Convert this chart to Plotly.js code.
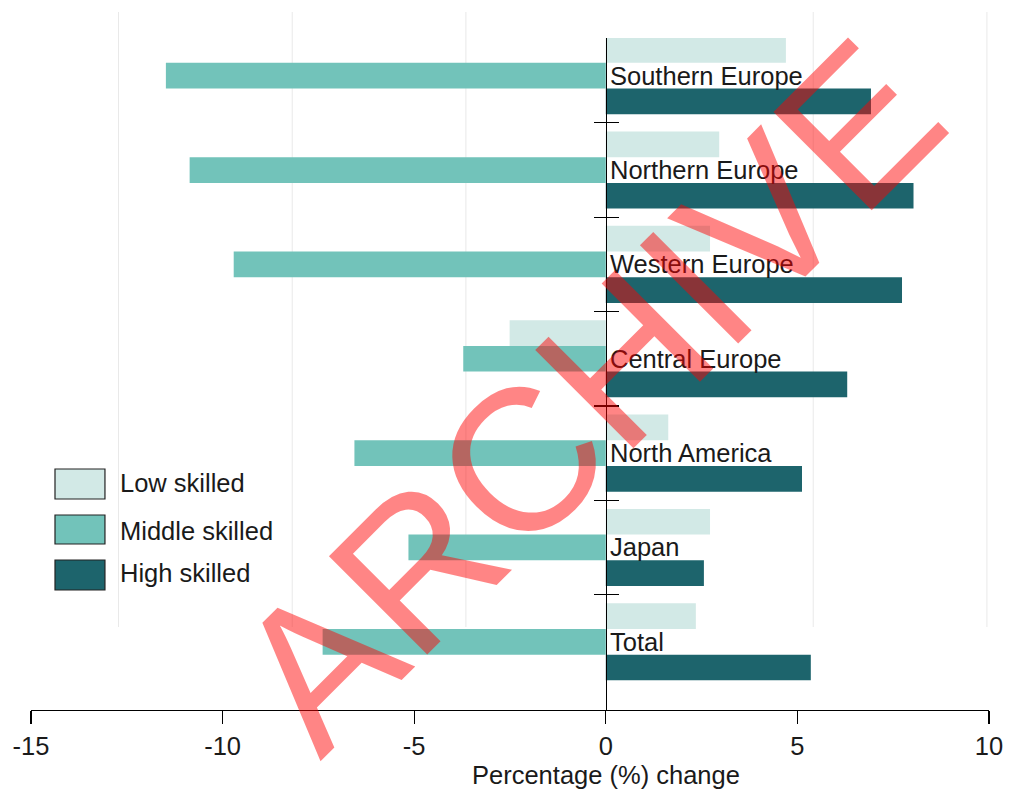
<!DOCTYPE html>
<html>
<head>
<meta charset="utf-8">
<script src="https://cdn.plot.ly/plotly-3.0.1.min.js"></script>
<style>html,body{margin:0;padding:0;background:#fff;}#chart{width:1009px;height:790px;}</style>
</head>
<body>
<div id="chart"></div>
<script>
// ---- data ----
const regions = ["Southern Europe","Northern Europe","Western Europe","Central Europe","North America","Japan","Total"];
const seriesNames = ["Low skilled","Middle skilled","High skilled"];
const lowSkilled    = [4.70, 2.96, 2.72, -2.51, 1.63, 2.72, 2.35];
const middleSkilled = [-11.48, -10.86, -9.71, -3.72, -6.56, -5.15, -7.39];
const highSkilled   = [6.92, 8.03, 7.73, 6.30, 5.12, 2.56, 5.35];
const xTickVals  = [-15, -10, -5, 0, 5, 10];
const xTickText  = ["-15", "-10", "-5", "0", "5", "10"];
const xTitle = "Percentage (%) change";
const gridVals   = [0, 1, 2, 4, 5];
const boundaryVals = [0.5, 1.5, 2.5, 3.5, 4.5, 5.5];

const colors = ["#d2e9e6", "#72c3ba", "#1d646c"];
const FONT = "Liberation Sans, Arial, Helvetica, sans-serif";
const TXT = "#1a1a1a";
const FS = 25.5;

const values = [lowSkilled, middleSkilled, highSkilled];
const barTraces = values.map((v, i) => ({
  type: "bar", orientation: "h",
  x: v, y: regions, name: seriesNames[i],
  marker: {color: colors[i], line: {width: 0}},
  hoverinfo: "x+y", showlegend: false
}));

const gridTrace = {type: "scatter", x: [null], y: [null], xaxis: "x2", yaxis: "y2", showlegend: false, hoverinfo: "skip"};
const tickTraceL = {type: "scatter", x: [null], y: [null], yaxis: "y3", showlegend: false, hoverinfo: "skip"};
const tickTraceR = {type: "scatter", x: [null], y: [null], yaxis: "y4", showlegend: false, hoverinfo: "skip"};

const yRange = [6.723, -0.4];
const mainDom = [0, 0.9628];
const gridDom = [0.1189, 1];

const annotations = regions.map(r => ({
  x: 0, y: r, xref: "x", yref: "y", text: r, showarrow: false,
  xanchor: "left", yanchor: "middle", xshift: 2, yshift: 0,
  font: {family: FONT, size: FS, color: TXT}
}));

// axis title centred on zero, as in the reference
annotations.push({x: 0, y: 0, xref: "x", yref: "paper", text: xTitle, showarrow: false,
  xanchor: "center", yanchor: "middle", yshift: -65,
  font: {family: FONT, size: FS, color: TXT}});

const shapes = [];
// background gridlines (below everything)
gridVals.forEach(g => {
  shapes.push({type: "line", xref: "x2", yref: "paper", x0: g, x1: g, y0: gridDom[0], y1: gridDom[1],
    layer: "below", line: {color: "#e9e9e9", width: 1}});
});

// custom legend
const legY = [[0.3453, 0.3023], [0.2794, 0.2378], [0.2149, 0.1719]];
const legTextY = [0.3252, 0.2569, 0.1967];
seriesNames.forEach((n, i) => {
  shapes.push({type: "rect", xref: "paper", yref: "paper", x0: 0.02505, x1: 0.0772,
    y0: legY[i][1], y1: legY[i][0], fillcolor: colors[i], line: {color: "#222", width: 1.2}});
  annotations.push({x: 0.0905, y: legTextY[i], xref: "paper", yref: "paper", text: n,
    showarrow: false, xanchor: "left", yanchor: "middle",
    font: {family: FONT, size: FS, color: TXT}});
});

// watermark
annotations.push({x: 0.581, y: 0.452, xref: "paper", yref: "paper", text: "ARCHIVE",
  showarrow: false, xanchor: "center", yanchor: "middle", textangle: -45,
  font: {family: FONT, size: 202, color: "rgba(255,0,0,0.48)"}});

const layout = {
  width: 1009, height: 790,
  margin: {l: 31, r: 20, t: 12, b: 80},
  paper_bgcolor: "#fff", plot_bgcolor: "rgba(0,0,0,0)",
  barmode: "group", bargap: 0.183, bargroupgap: 0,
  font: {family: FONT, color: TXT},
  xaxis: {
    range: [-15, 10], domain: [0, 1], anchor: "y",
    showline: true, linecolor: "#000", linewidth: 1.3,
    ticks: "outside", ticklen: 13, tickwidth: 1.2, tickcolor: "#000",
    tickmode: "array", tickvals: xTickVals, ticktext: xTickText,
    tickfont: {family: FONT, size: FS, color: TXT},
    showgrid: false, zeroline: false
  },
  yaxis: {
    type: "category", range: yRange, autorange: false, domain: mainDom,
    anchor: "free", position: 0.6,
    showline: true, linecolor: "#000", linewidth: 1.3,
    showticklabels: false, ticks: "", showgrid: false, zeroline: false
  },
  yaxis3: {
    overlaying: "y", anchor: "free", position: 0.6, side: "left",
    range: yRange, autorange: false, tickmode: "array", tickvals: boundaryVals,
    ticks: "outside", ticklen: 12, tickwidth: 1.2, tickcolor: "#000",
    showticklabels: false, showgrid: false, zeroline: false, showline: false
  },
  yaxis4: {
    overlaying: "y", anchor: "free", position: 0.6, side: "right",
    range: yRange, autorange: false, tickmode: "array", tickvals: boundaryVals,
    ticks: "outside", ticklen: 12, tickwidth: 1.2, tickcolor: "#000",
    showticklabels: false, showgrid: false, zeroline: false, showline: false
  },
  xaxis2: {
    domain: [0.0892, 1], range: [-0.012, 5.012], anchor: "y2",
    showgrid: false, showticklabels: false, ticks: "", showline: false, zeroline: false
  },
  yaxis2: {
    domain: gridDom, range: [0, 1], anchor: "x2",
    showgrid: false, showticklabels: false, ticks: "", showline: false, zeroline: false
  },
  annotations: annotations,
  shapes: shapes
};

Plotly.newPlot("chart", [gridTrace].concat(barTraces, [tickTraceL, tickTraceR]), layout,
  {displayModeBar: false, staticPlot: true});
</script>
</body>
</html>
